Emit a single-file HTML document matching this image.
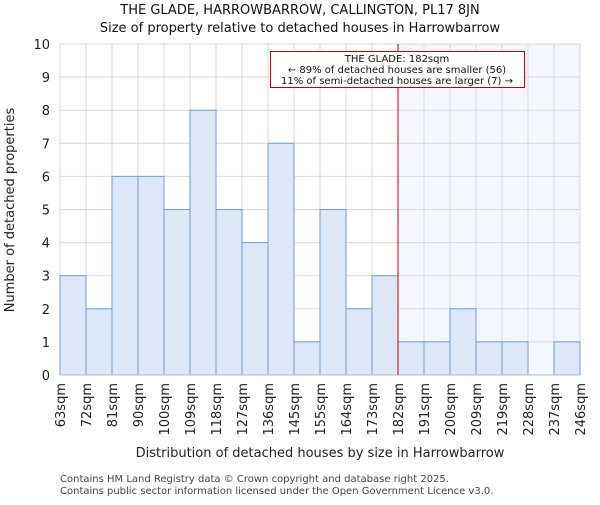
<!DOCTYPE html>
<html><head><meta charset="utf-8"><style>
body{margin:0;background:#fff}
svg{font-family:"DejaVu Sans","Liberation Sans",sans-serif}
</style></head><body>
<svg id="c" width="600" height="500"></svg>
<script>
const categories=["63sqm","72sqm","81sqm","90sqm","100sqm","109sqm","118sqm","127sqm","136sqm","145sqm","155sqm","164sqm","173sqm","182sqm","191sqm","200sqm","209sqm","219sqm","228sqm","237sqm","246sqm"];
const counts=[3,2,6,6,5,8,5,4,7,1,5,2,3,1,1,2,1,1,0,1];
const yTicks=[0,1,2,3,4,5,6,7,8,9,10];
const markerIndex=13;
const NS="http://www.w3.org/2000/svg";
const svg=document.getElementById('c');
const L=60,R=580,T=44,B=375,n=counts.length,bw=(R-L)/n;
const x=i=>L+i*bw, y=v=>B-(v/10)*(B-T);
function el(t,a,p){const e=document.createElementNS(NS,t);for(const k in a)e.setAttribute(k,a[k]);(p||svg).appendChild(e);return e;}
function txt(s,a){const e=el('text',a);e.textContent=s;return e;}
let e;
e=el('rect',{x:x(markerIndex),y:T,width:R-x(markerIndex),height:B-T,fill:'#f3f6fd'});

for(const v of yTicks){
 e=el('line',{x1:L,x2:R,y1:y(v),y2:y(v),stroke:'#d9d9d9'});
 
 e=txt(v,{x:L-10,y:y(v)+5,'text-anchor':'end','font-size':13,fill:'#222'});
 
}
for(let i=0;i<=n;i++){
 e=el('line',{x1:x(i),x2:x(i),y1:T,y2:B,stroke:'#d9d9d9'});
 
}
counts.forEach((v,i)=>{
 if(v<=0)return;
 e=el('rect',{x:x(i),y:y(v),width:bw,height:B-y(v),fill:'#dde7f5',stroke:'#6e9fd8','stroke-width':1});
 
});
e=el('line',{x1:L,x2:R,y1:B,y2:B,stroke:'#bbb'});

categories.forEach((c,i)=>{
 const cx=x(i)+5;
 e=txt(c,{x:cx,y:383,transform:`rotate(-90 ${cx} 383)`,'text-anchor':'end','font-size':13,fill:'#222'});
 
});
e=el('line',{x1:x(markerIndex),x2:x(markerIndex),y1:T,y2:B,stroke:'#cc0000','stroke-width':1});

const g=el('g',{});
el('rect',{x:270.5,y:51.5,width:254,height:36,fill:'#fff',stroke:'#cc0000'},g);
[["THE GLADE: 182sqm",62],["← 89% of detached houses are smaller (56)",73],["11% of semi-detached houses are larger (7) →",84]].forEach(([s,yy])=>{
 const t=el('text',{x:397,y:yy,'text-anchor':'middle','font-size':10,fill:'#111'},g);t.textContent=s;
});
e=txt("THE GLADE, HARROWBARROW, CALLINGTON, PL17 8JN",{x:300,y:14,'text-anchor':'middle','font-size':13,fill:'#111'});

e=txt("Size of property relative to detached houses in Harrowbarrow",{x:300,y:32,'text-anchor':'middle','font-size':13,fill:'#111'});

e=txt("Number of detached properties",{x:14,y:210,transform:'rotate(-90 14 210)','text-anchor':'middle','font-size':13,fill:'#222'});

e=txt("Distribution of detached houses by size in Harrowbarrow",{x:320,y:457,'text-anchor':'middle','font-size':13,fill:'#222'});

e=txt("Contains HM Land Registry data © Crown copyright and database right 2025.",{x:60,y:482,'font-size':10,fill:'#444'});

e=txt("Contains public sector information licensed under the Open Government Licence v3.0.",{x:60,y:494,'font-size':10,fill:'#444'});

</script>
</body></html>
